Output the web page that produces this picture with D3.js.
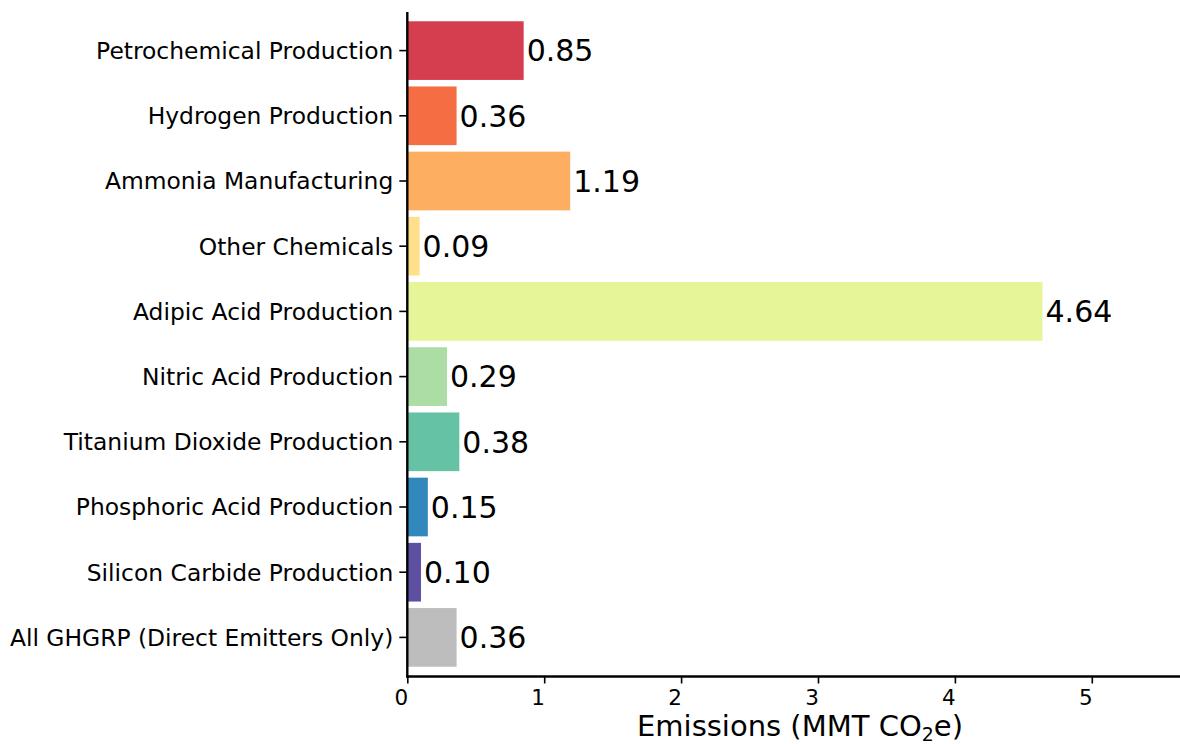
<!DOCTYPE html>
<html><head><meta charset="utf-8">
<script src="https://cdn.jsdelivr.net/npm/d3@7"></script>
<style>body{margin:0;background:#fff;} text{font-family:"DejaVu Sans",sans-serif;}</style>
</head><body><svg id="c" width="1180" height="744"></svg>
<script>
const categories = ["Petrochemical Production","Hydrogen Production","Ammonia Manufacturing","Other Chemicals","Adipic Acid Production","Nitric Acid Production","Titanium Dioxide Production","Phosphoric Acid Production","Silicon Carbide Production","All GHGRP (Direct Emitters Only)"];
const values = [0.85,0.36,1.19,0.09,4.64,0.29,0.38,0.15,0.10,0.36];
const colors = ["#d53e4f","#f46d43","#fdae61","#fee08b","#e6f598","#abdda4","#66c2a5","#3288bd","#5e4fa2","#bdbdbd"];
const xTicks = [0,1,2,3,4,5];

(function(){
const svg = d3.select("#c");
const L = 407.3, R = 1180, T = 12, B = 676.5;
const x = d3.scaleLinear().domain([0, (R-L)/136.9]).range([L, R]);
const y = d3.scaleBand().domain(categories).range([18, 670]).paddingInner(0.1).paddingOuter(0.05);

svg.selectAll("rect.bar").data(values).enter().append("rect")
  .attr("x", x(0)).attr("y", (d,i)=>y(categories[i]))
  .attr("width", d=>x(d)-x(0)).attr("height", y.bandwidth())
  .attr("fill", (d,i)=>colors[i]);

svg.selectAll("text.val").data(values).enter().append("text")
  .attr("x", d=>x(d)+3).attr("y", (d,i)=>y(categories[i])+y.bandwidth()/2)
  .attr("dy","0.36em").attr("font-size", 30).attr("fill","#000")
  .text(d=>d.toFixed(2));

const ya = svg.append("g").attr("transform", `translate(${L},0)`)
  .call(d3.axisLeft(y).tickSize(8).tickPadding(6));
ya.select(".domain").remove();
ya.selectAll("text").attr("font-size", 23.4).attr("fill","#000").attr("dy","0.36em").style("font-family","DejaVu Sans");
ya.selectAll("line").attr("stroke","#000").attr("stroke-width",1.6);
svg.append("line").attr("x1",L).attr("x2",L).attr("y1",T).attr("y2",B+1)
  .attr("stroke","#000").attr("stroke-width",2.4);

const xa = svg.append("g").attr("transform", `translate(0,${B})`)
  .call(d3.axisBottom(x).tickValues(xTicks).tickFormat(d3.format("d")).tickSize(7).tickPadding(4));
xa.select(".domain").remove();
xa.selectAll("text").attr("font-size", 21.5).attr("fill","#000").attr("dx",-6.5).attr("y",null).attr("dy",null)
  .attr("transform","translate(0,28.5)").style("font-family","DejaVu Sans");
xa.selectAll("line").attr("stroke","#000").attr("stroke-width",1.6);
svg.append("line").attr("x1",L-1.2).attr("x2",R).attr("y1",B).attr("y2",B)
  .attr("stroke","#000").attr("stroke-width",2.4);

const t = svg.append("text").attr("x", 800).attr("y", 736).attr("text-anchor","middle")
  .attr("font-size", 29).attr("fill","#000");
t.append("tspan").text("Emissions (MMT CO");
t.append("tspan").attr("font-size", 19).attr("dy", 4.5).text("2");
t.append("tspan").attr("dy", -4.5).text("e)");
})();
</script></body></html>
